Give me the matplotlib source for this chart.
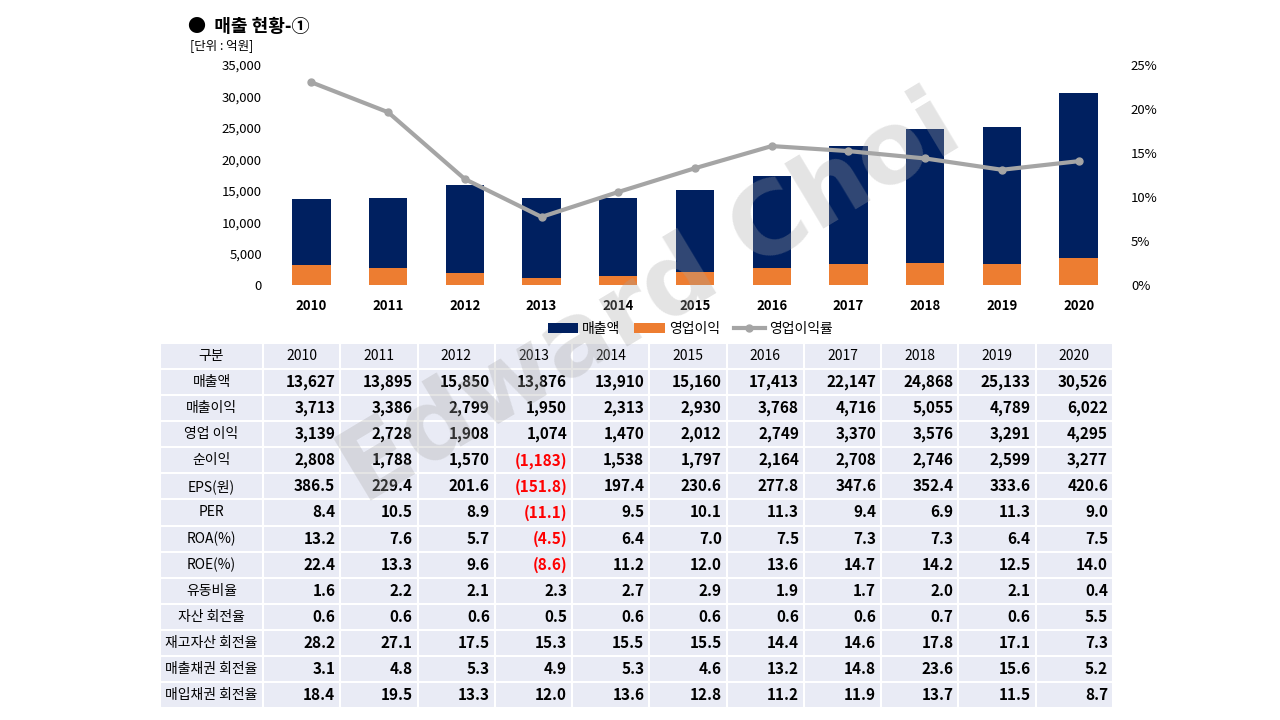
import numpy as np
import matplotlib.pyplot as plt

plt.rcParams['font.family'] = ['Noto Sans CJK KR', 'DejaVu Sans']

# ---data---
years = ["2010", "2011", "2012", "2013", "2014", "2015", "2016", "2017", "2018", "2019", "2020"]
sales = [13627, 13895, 15850, 13876, 13910, 15160, 17413, 22147, 24868, 25133, 30526]
gross = [3713, 3386, 2799, 1950, 2313, 2930, 3768, 4716, 5055, 4789, 6022]
op_profit = [3139, 2728, 1908, 1074, 1470, 2012, 2749, 3370, 3576, 3291, 4295]
net = [2808, 1788, 1570, -1183, 1538, 1797, 2164, 2708, 2746, 2599, 3277]
eps = [386.5, 229.4, 201.6, -151.8, 197.4, 230.6, 277.8, 347.6, 352.4, 333.6, 420.6]
per = [8.4, 10.5, 8.9, -11.1, 9.5, 10.1, 11.3, 9.4, 6.9, 11.3, 9.0]
roa = [13.2, 7.6, 5.7, -4.5, 6.4, 7.0, 7.5, 7.3, 7.3, 6.4, 7.5]
roe = [22.4, 13.3, 9.6, -8.6, 11.2, 12.0, 13.6, 14.7, 14.2, 12.5, 14.0]
current_ratio = [1.6, 2.2, 2.1, 2.3, 2.7, 2.9, 1.9, 1.7, 2.0, 2.1, 0.4]
asset_turn = [0.6, 0.6, 0.6, 0.5, 0.6, 0.6, 0.6, 0.6, 0.7, 0.6, 5.5]
inv_turn = [28.2, 27.1, 17.5, 15.3, 15.5, 15.5, 14.4, 14.6, 17.8, 17.1, 7.3]
recv_turn = [3.1, 4.8, 5.3, 4.9, 5.3, 4.6, 13.2, 14.8, 23.6, 15.6, 5.2]
pay_turn = [18.4, 19.5, 13.3, 12.0, 13.6, 12.8, 11.2, 11.9, 13.7, 11.5, 8.7]

row_labels = ["매출액", "매출이익", "영업 이익", "순이익", "EPS(원)", "PER", "ROA(%)", "ROE(%)",
              "유동비율", "자산 회전율", "재고자산 회전율", "매출채권 회전율", "매입채권 회전율"]
rows = [sales, gross, op_profit, net, eps, per, roa, roe,
        current_ratio, asset_turn, inv_turn, recv_turn, pay_turn]
int_rows = {0, 1, 2, 3}

margin = [o / s * 100 for o, s in zip(op_profit, sales)]

NAVY = "#002060"
ORANGE = "#ED7D31"
GREY = "#A5A5A5"

fig = plt.figure(figsize=(12.8, 7.2), dpi=100)
W, H = 1280, 720


def fig_axes(x0, y0, x1, y1):
    return fig.add_axes([x0 / W, 1 - y1 / H, (x1 - x0) / W, (y1 - y0) / H])


# ---chart---
ax = fig_axes(273, 65, 1117, 285)
x = np.arange(len(years))
ax.bar(x, sales, width=0.5, color=NAVY, label="매출액", zorder=2)
ax.bar(x, op_profit, width=0.5, color=ORANGE, label="영업이익", zorder=3)
ax.set_xlim(-0.5, len(years) - 0.5)
ax.set_ylim(0, 35000)
ax.set_yticks(range(0, 35001, 5000))
ax.set_yticklabels([f"{v:,}" for v in range(0, 35001, 5000)], fontsize=9.5, fontweight="medium")
ax.set_xticks(x)
ax.set_xticklabels(years, fontsize=9.5, fontweight="bold")
ax.tick_params(length=0, pad=10)
ax.tick_params(axis="y", pad=8)
for s in ax.spines.values():
    s.set_visible(False)

ax2 = ax.twinx()
ax2.plot(x, margin, color=GREY, lw=3, marker="o", ms=5, label="영업이익률", zorder=4)
ax2.set_ylim(0, 25)
ax2.set_yticks(range(0, 26, 5))
ax2.set_yticklabels([f"{v}%" for v in range(0, 26, 5)], fontsize=9.5, fontweight="medium")
ax2.tick_params(length=0, pad=10)
for s in ax2.spines.values():
    s.set_visible(False)

h1, l1 = ax.get_legend_handles_labels()
h2, l2 = ax2.get_legend_handles_labels()
fig.legend(h1 + h2, l1 + l2, loc="center", bbox_to_anchor=(690 / W, 1 - 329 / H), ncol=3,
           frameon=False, fontsize=10, handlelength=2.2, handletextpad=0.3, columnspacing=1.0)

fig.text(188 / W, 1 - 26 / H, "●  매출 현황-①", fontsize=13, fontweight="bold", va="center")
fig.text(190 / W, 1 - 46 / H, "[단위 : 억원]", fontsize=9, fontweight="medium", va="center")

# ---table---
tax = fig_axes(160, 343, 1113, 708)
tax.set_axis_off()
n_rows = len(rows) + 1
col_w0 = 103
col_w = (953 - 103) / len(years)
tax.set_xlim(0, 953)
tax.set_ylim(n_rows, 0)


def fmt(v, is_int):
    s = f"{abs(v):,.0f}" if is_int else f"{abs(v):.1f}"
    return f"({s})" if v < 0 else s


for r in range(n_rows):
    for c in range(len(years) + 1):
        x0 = 0 if c == 0 else col_w0 + (c - 1) * col_w
        w = col_w0 if c == 0 else col_w
        tax.add_patch(plt.Rectangle((x0, r), w, 1, facecolor="#E9EBF5", edgecolor="white", lw=1.5))
        if r == 0:
            txt = "구분" if c == 0 else years[c - 1]
            tax.text(x0 + w / 2, r + 0.5, txt, ha="center", va="center", fontsize=10, fontweight="medium")
            continue
        if c == 0:
            tax.text(x0 + w / 2, r + 0.5, row_labels[r - 1], ha="center", va="center",
                     fontsize=10, fontweight="medium")
        else:
            v = rows[r - 1][c - 1]
            tax.text(x0 + w - 5, r + 0.5, fmt(v, (r - 1) in int_rows), ha="right", va="center",
                     fontsize=11, fontweight="bold", color="red" if v < 0 else "black")

# watermark
fig.text(650 / W, 1 - 300 / H, "Edward Choi", fontsize=72, fontweight="bold", color="#A6A6A6",
         alpha=0.3, rotation=31, ha="center", va="center", family="DejaVu Sans")

fig.savefig("out.png", dpi=100)
